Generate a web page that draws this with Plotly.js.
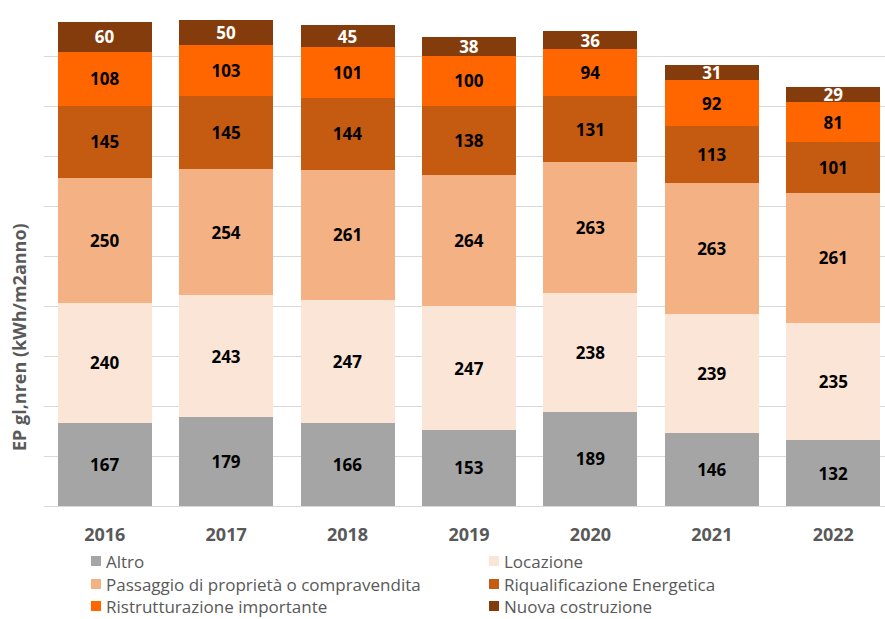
<!DOCTYPE html>
<html><head><meta charset="utf-8">
<script src="https://cdn.plot.ly/plotly-3.0.1.min.js"></script>
<style>html,body{margin:0;padding:0;background:#fff}#chart{width:885px;height:619px}</style>
</head><body><div id="chart"></div>
<script>
const years = ['2016','2017','2018','2019','2020','2021','2022'];
const altro = [167,179,166,153,189,146,132];
const locazione = [240,243,247,247,238,239,235];
const passaggio = [250,254,261,264,263,263,261];
const riqualificazione = [145,145,144,138,131,113,101];
const ristrutturazione = [108,103,101,100,94,92,81];
const nuova = [60,50,45,38,36,31,29];
const seriesNames = ['Altro','Locazione','Passaggio di proprietà o compravendita','Riqualificazione Energetica','Ristrutturazione importante','Nuova costruzione'];
const seriesValues = [altro,locazione,passaggio,riqualificazione,ristrutturazione,nuova];
const colors = ['#A5A5A5','#FBE5D6','#F4B183','#C55A11','#FF6600','#843C0C'];
const textColors = ['#000','#000','#000','#000','#000','#fff'];
const FONT = 'Open Sans, Liberation Sans, sans-serif';

const traces = seriesValues.map((v,i)=>({
  type:'bar', x:years, y:v, name:seriesNames[i],
  marker:{color:colors[i], line:{width:0}},
  text:v.map(String), textposition:'inside', insidetextanchor:'middle', textangle:0,
  textfont:{family:FONT, size:17, color:textColors[i], weight:'bold'},
  hoverinfo:'none'
}));

// plot area geometry (pixels) for manual legend placement
const L = 44, T = 7, W = 841, H = 499;
const px2x = p => (p - L) / W;
const py2y = p => (T + H - p) / H;
const legCols = [91, 489];
const legRows = [561, 584, 606];
const shapes = [], annotations = [];
seriesNames.forEach((n,i)=>{
  const cx = legCols[i%2], cy = legRows[Math.floor(i/2)];
  shapes.push({type:'rect', xref:'paper', yref:'paper',
    x0:px2x(cx), x1:px2x(cx+10), y0:py2y(cy+5), y1:py2y(cy-5),
    fillcolor:colors[i], line:{width:0}});
  annotations.push({text:n, xref:'paper', yref:'paper', x:px2x(cx+13), y:py2y(cy),
    xanchor:'left', yanchor:'middle', showarrow:false,
    font:{family:FONT, size:17, color:'#595959'}});
});
annotations.push({text:'EP gl,nren (kWh/m2anno)', textangle:-90, xref:'paper', yref:'paper',
  x:px2x(19), y:py2y(337), xanchor:'center', yanchor:'middle', showarrow:false,
  font:{family:FONT, size:18, color:'#595959', weight:'bold'}});

const layout = {
  width:885, height:619, barmode:'stack', bargap:0.225,
  margin:{l:L, r:0, t:T, b:619-T-H},
  paper_bgcolor:'#fff', plot_bgcolor:'#fff',
  showlegend:false,
  uniformtext:{mode:'show', minsize:17},
  xaxis:{type:'category', range:[-0.5,6.426], showline:false, ticks:'', showgrid:false,
    ticklabelstandoff:16,
    tickfont:{family:FONT, size:18, color:'#595959', weight:'bold'}},
  yaxis:{range:[0,1000], dtick:100, showticklabels:false, gridcolor:'#D9D9D9', gridwidth:1,
    zeroline:true, zerolinecolor:'#D9D9D9', zerolinewidth:1, ticks:''},
  shapes:shapes, annotations:annotations
};
Plotly.newPlot('chart', traces, layout, {displayModeBar:false, staticPlot:true});
</script></body></html>
